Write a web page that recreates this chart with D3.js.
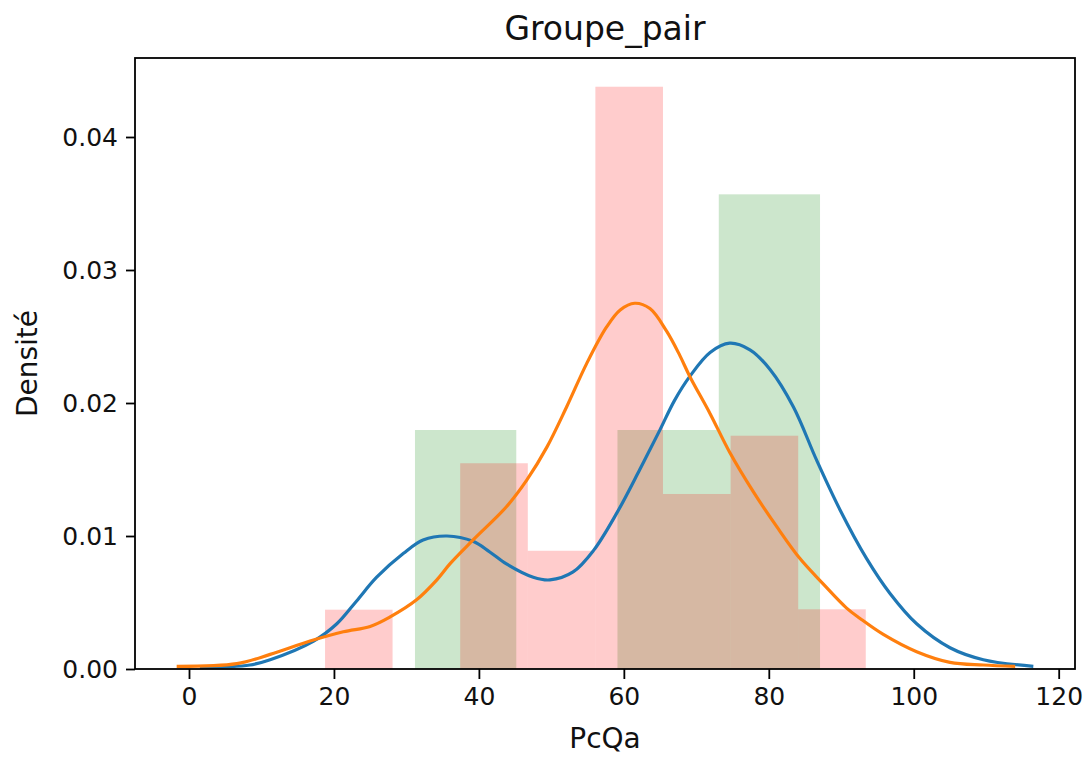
<!DOCTYPE html>
<html>
<head>
<meta charset="utf-8">
<script src="https://cdn.jsdelivr.net/npm/d3@7"></script>
<style>
  body { margin: 0; background: #fff; }
  text { font-family: 'DejaVu Sans', sans-serif; fill: #111; }
</style>
</head>
<body>
<div id="chart"></div>
<script>
// histogram bins (PcQa) and densities
const greenEdges = [31.18, 45.16, 59.12, 73.10, 87.07]
const greenDensity = [0.01797, 0, 0.01797, 0.03569]
const pinkEdges = [18.77, 28.09, 37.42, 46.75, 56.07, 65.40, 74.73, 84.06, 93.38]
const pinkDensity = [0.00446, 0, 0.01547, 0.00889, 0.04378, 0.01316, 0.01754, 0.00449]

// kde curves
const blueX = [1.5, 8.4, 11.2, 17.2, 20.4, 23.1, 25.9, 29.6, 32.3, 35.6, 39.2, 41.5, 43.8, 47.5, 49.8, 53.0, 55.8, 59.0, 62.2, 65.0, 67.0, 69.1, 71.9, 74.6, 77.4, 80.2, 83.4, 86.6, 89.8, 93.5, 96.7, 100.4, 105.0, 109.6, 116.5]
const blueY = [0.0001, 0.0003, 0.0007, 0.0021, 0.0034, 0.0051, 0.0069, 0.0087, 0.0097, 0.0100, 0.0096, 0.0088, 0.0079, 0.0069, 0.0067, 0.0073, 0.0089, 0.0117, 0.0150, 0.0180, 0.0202, 0.0220, 0.0238, 0.0245, 0.0240, 0.0225, 0.0197, 0.0157, 0.0120, 0.0083, 0.0057, 0.0034, 0.0016, 0.0007, 0.0002]
const orangeX = [-1.7, 6.6, 11.2, 16.7, 21.3, 25.0, 27.7, 31.4, 34.2, 36.0, 39.2, 43.8, 46.6, 49.4, 52.1, 54.9, 57.6, 59.5, 61.5, 63.6, 65.9, 67.7, 69.1, 71.9, 74.6, 77.9, 81.1, 84.3, 87.5, 90.7, 92.6, 95.8, 100.4, 105.0, 109.6, 114.0]
const orangeY = [0.0002, 0.0004, 0.0011, 0.0021, 0.0028, 0.0032, 0.0039, 0.0052, 0.0067, 0.0079, 0.0097, 0.0122, 0.0142, 0.0167, 0.0197, 0.0230, 0.0257, 0.0270, 0.0275, 0.0271, 0.0254, 0.0236, 0.0220, 0.0192, 0.0163, 0.0133, 0.0107, 0.0083, 0.0064, 0.0046, 0.0038, 0.0026, 0.0013, 0.0005, 0.0003, 0.0002]

const xTicks = [0, 20, 40, 60, 80, 100, 120]
const yTicks = [0, 0.01, 0.02, 0.03, 0.04]

const width = 1083, height = 760
const margin = { top: 58, right: 8, bottom: 91, left: 135 }

let svg = d3.select('#chart').append('svg')
  .attr('width', width)
  .attr('height', height)

let x = d3.scaleLinear().domain([-7.45, 122.25]).range([margin.left, width - margin.right])
let y = d3.scaleLinear().domain([0, 0.04594]).range([height - margin.bottom, margin.top])

// bars: green first, pink over it
function drawHist(edges, dens, color) {
  let bins = dens.map((d, i) => ({ x0: edges[i], x1: edges[i + 1], d: d }))
  svg.append('g')
    .selectAll('rect')
    .data(bins.filter(b => b.d > 0))
    .enter()
    .append('rect')
    .attr('x', b => x(b.x0))
    .attr('width', b => x(b.x1) - x(b.x0))
    .attr('y', b => y(b.d))
    .attr('height', b => y(0) - y(b.d))
    .style('fill', color)
    .style('fill-opacity', 0.2)
}
drawHist(greenEdges, greenDensity, '#008000')
drawHist(pinkEdges, pinkDensity, '#ff0000')

let line = d3.line()
  .x(p => x(p[0]))
  .y(p => y(p[1]))
  .curve(d3.curveCatmullRom.alpha(0.5))

svg.append('path')
  .attr('d', line(d3.zip(blueX, blueY)))
  .style('fill', 'none')
  .style('stroke', '#1f77b4')
  .style('stroke-width', 3.2)
svg.append('path')
  .attr('d', line(d3.zip(orangeX, orangeY)))
  .style('fill', 'none')
  .style('stroke', '#ff7f0e')
  .style('stroke-width', 3.2)

// axes
svg.append('g')
  .attr('transform', 'translate(0,' + (height - margin.bottom) + ')')
  .call(d3.axisBottom(x).tickValues(xTicks).tickSize(10).tickPadding(8).tickFormat(d3.format('d')))
svg.append('g')
  .attr('transform', 'translate(' + margin.left + ',0)')
  .call(d3.axisLeft(y).tickValues(yTicks).tickSize(9).tickPadding(8).tickFormat(d3.format('.2f')))

svg.selectAll('.domain').remove()
svg.selectAll('.tick line').style('stroke', '#000').style('stroke-width', 1.8)
svg.selectAll('.tick text')
  .style('font-family', "'DejaVu Sans', sans-serif")
  .style('font-size', '25px')
  .style('fill', '#111')

// frame
svg.append('rect')
  .attr('x', margin.left)
  .attr('y', margin.top)
  .attr('width', width - margin.right - margin.left)
  .attr('height', height - margin.bottom - margin.top)
  .style('fill', 'none')
  .style('stroke', '#000')
  .style('stroke-width', 1.8)

let cx = (margin.left + width - margin.right) / 2
svg.append('text')
  .attr('x', cx)
  .attr('y', 40)
  .attr('text-anchor', 'middle')
  .style('font-size', '33px')
  .text('Groupe_pair')

svg.append('text')
  .attr('x', cx)
  .attr('y', 748)
  .attr('text-anchor', 'middle')
  .style('font-size', '28px')
  .text('PcQa')

svg.append('text')
  .attr('transform', 'translate(37,' + (margin.top + height - margin.bottom) / 2 + ') rotate(-90)')
  .attr('text-anchor', 'middle')
  .style('font-size', '28px')
  .text('Densité')
</script>
</body>
</html>
